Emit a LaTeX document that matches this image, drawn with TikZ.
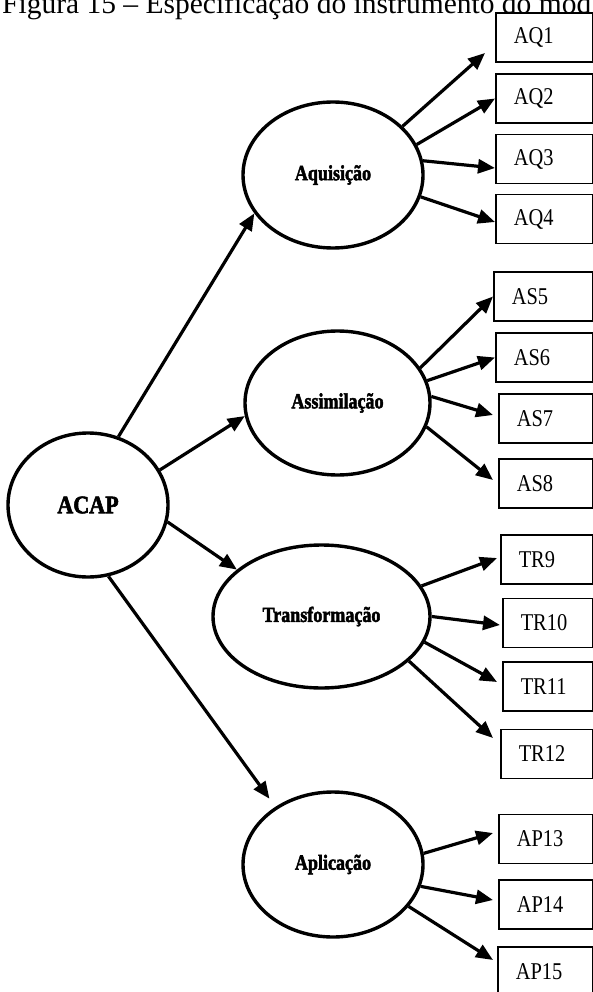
\documentclass[tikz,border=0pt]{standalone}
\usepackage{fontspec}
\setmainfont{Liberation Serif}
\newfontfamily\lblfont{Liberation Serif}[BoldFeatures={FakeBold=2.5}]
\usetikzlibrary{shapes.geometric,arrows.meta,calc}

% condensed construct names and tall indicator names
\newcommand\latlbl[1]{\scalebox{0.88}[1.05]{#1}}
\newcommand\indlbl[1]{\scalebox{0.95}[1.12]{#1}}

\begin{document}
\begin{tikzpicture}[x=1pt,y=-1pt,
  lat/.style={draw,ellipse,line width=3.4pt,inner sep=0pt,
    font=\lblfont\bfseries\fontsize{20.5}{21}\selectfont},
  obs/.style={draw,rectangle,line width=1.5pt,anchor=west,minimum height=49pt,
    inner xsep=18pt,inner ysep=0pt,align=left,
    font=\fontsize{21.5}{24}\selectfont},
  arr/.style={line width=3.2pt,-{Triangle[length=17pt,width=14pt]}},
]
\useasboundingbox (0,0) rectangle (593,992);

% caption line, cut by the page edges
\node[anchor=base west,inner sep=0pt,font=\fontsize{29.5}{30}\selectfont] (cap) at (2,14)
  {Figura 15 -- Especificação do instrumento do mod};

% latent constructs
\node[lat,minimum width=160pt,minimum height=144pt] (acap) at (88,505)
  {\fontsize{24}{24}\selectfont\scalebox{0.92}[1.05]{ACAP}};
\node[lat,minimum width=180pt,minimum height=146pt] (aq) at (333,175) {\latlbl{Aquisição}};
\node[lat,minimum width=185pt,minimum height=144pt] (as) at (337.5,403) {\latlbl{Assimilação}};
\node[lat,minimum width=217pt,minimum height=143pt] (tr) at (321.5,616.5) {\latlbl{Transformação}};
\node[lat,minimum width=180pt,minimum height=145pt] (ap) at (333,864.5) {\latlbl{Aplicação}};

% indicators
\node[obs,text width=61pt] (AQ1) at (495,37.5) {\indlbl{AQ1}};
\node[obs,text width=61pt] (AQ2) at (495,98.5) {\indlbl{AQ2}};
\node[obs,text width=61pt] (AQ3) at (495,159) {\indlbl{AQ3}};
\node[obs,text width=61pt] (AQ4) at (495,219) {\indlbl{AQ4}};
\node[obs,text width=63pt] (AS5) at (493,296.5) {\indlbl{AS5}};
\node[obs,text width=61pt] (AS6) at (495,357.5) {\indlbl{AS6}};
\node[obs,text width=58pt] (AS7) at (498,418.5) {\indlbl{AS7}};
\node[obs,text width=58pt] (AS8) at (498,483.5) {\indlbl{AS8}};
\node[obs,text width=56pt] (TR9) at (500,559.5) {\indlbl{TR9}};
\node[obs,text width=54pt] (TR10) at (502,623) {\indlbl{TR10}};
\node[obs,text width=54pt] (TR11) at (502,686.5) {\indlbl{TR11}};
\node[obs,text width=56pt] (TR12) at (500,754) {\indlbl{TR12}};
\node[obs,text width=58pt] (AP13) at (498,839) {\indlbl{AP13}};
\node[obs,text width=58pt] (AP14) at (498,904.5) {\indlbl{AP14}};
\node[obs,text width=59pt] (AP15) at (497,971.5) {\indlbl{AP15}};

% second-order paths
\draw[arr] (acap.66.8) -- (aq.206);
\draw[arr] (acap.26.9) -- (as.188);
\draw[arr] (acap.-12) -- (tr.151.3);
\draw[arr,shorten >=10pt] (acap.-74) -- (ap.135);

% loadings
\draw[arr] (aq.35) -- ($(AQ1.west)+(-10,15.5)$);
\draw[arr] (aq.20.1) -- (AQ2.west);
\draw[arr] (aq.9.8) -- ($(AQ3.west)+(0,9)$);
\draw[arr] (aq.-14.5) -- ($(AQ4.west)+(0,3)$);

\draw[arr] (as.23.4) -- (AS5.west);
\draw[arr] (as.14.2) -- (AS6.west);
\draw[arr] (as.4.9) -- ($(AS7.west)+(-5,-3.5)$);
\draw[arr] (as.-15.4) -- ($(AS8.west)+(-5,-3.5)$);

\draw[arr] (tr.17.2) -- ($(TR9.west)+(-3,-1.5)$);
\draw[arr] (tr.-0.3) -- ($(TR10.west)+(-2,2)$);
\draw[arr] (tr.-14.4) -- ($(TR11.west)+(-5,-4.5)$);
\draw[arr] (tr.-27.2) -- ($(TR12.west)+(-7,-16)$);

\draw[arr] (ap.7) -- ($(AP13.west)+(-5,-6)$);
\draw[arr] (ap.-14.8) -- ($(AP14.west)+(-5,-4.5)$);
\draw[arr] (ap.-29.9) -- ($(AP15.west)+(-4,-11.5)$);
\end{tikzpicture}
\end{document}
